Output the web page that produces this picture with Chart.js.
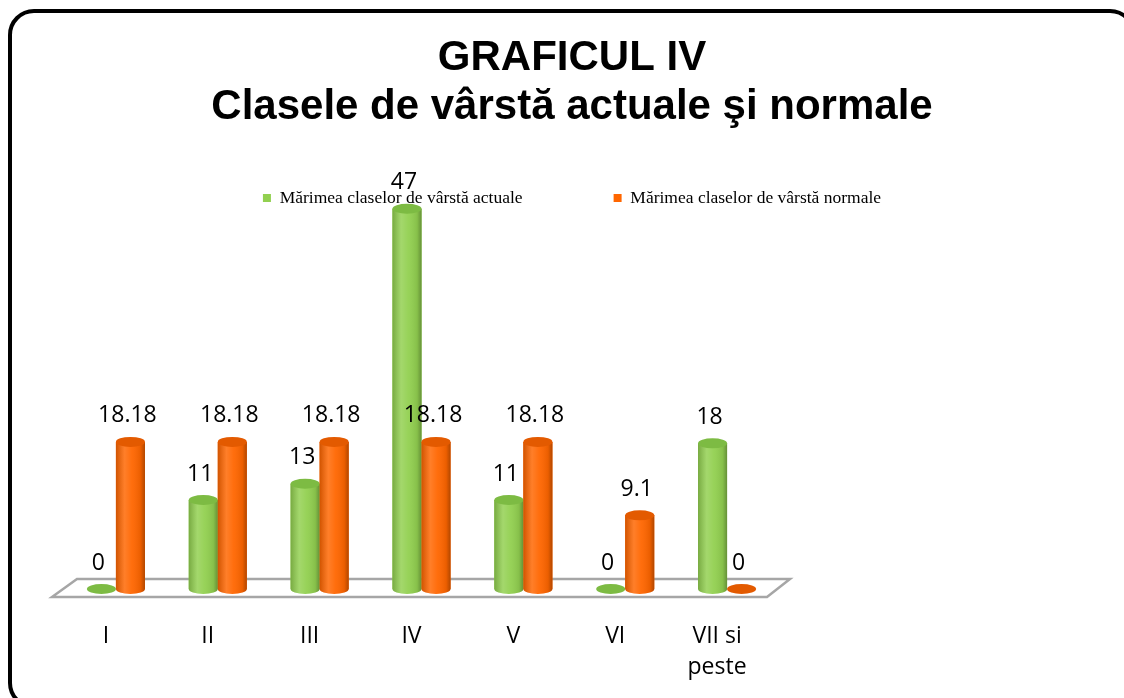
<!DOCTYPE html>
<html>
<head>
<meta charset="utf-8">
<script src="https://cdn.jsdelivr.net/npm/chart.js@4.4.1/dist/chart.umd.min.js"></script>
<style>
  html, body { margin: 0; padding: 0; background: #fff; overflow: hidden; }
  #wrap { position: relative; width: 1124px; height: 698px; overflow: hidden; }
  #chart { position: absolute; left: 0; top: 0; }
  #frame {
    position: absolute; left: 8px; top: 9px; width: 1128px; height: 700px;
    border: 4px solid #000; border-radius: 26px; box-sizing: border-box; pointer-events: none;
  }
</style>
</head>
<body>
<div id="wrap">
  <canvas id="chart" width="1144" height="698"></canvas>
  <div id="frame"></div>
</div>
<script>
// data
var categories = ['I', 'II', 'III', 'IV', 'V', 'VI', ['VII si', 'peste']];
var actual = [0, 11, 13, 47, 11, 0, 18];
var normal = [18.18, 18.18, 18.18, 18.18, 18.18, 9.1, 0];
var seriesNames = ['Mărimea claselor de vârstă actuale', 'Mărimea claselor de vârstă normale'];
var titleLines = ['GRAFICUL IV', 'Clasele de vârstă actuale şi normale'];

// floor under the bars (3d look)
var floorPlugin = {
  id: 'floor',
  beforeDatasetsDraw: function (chart) {
    var ctx = chart.ctx, x = chart.scales.x, y = chart.scales.y;
    var base = y.getPixelForValue(0);
    ctx.save();
    ctx.beginPath();
    ctx.moveTo(x.left - 13, base + 8);
    ctx.lineTo(x.left + 12, base - 10);
    ctx.lineTo(x.right + 12, base - 10);
    ctx.lineTo(x.right - 11, base + 8);
    ctx.closePath();
    ctx.fillStyle = '#fff';
    ctx.fill();
    ctx.lineWidth = 2.5;
    ctx.strokeStyle = '#a6a6a6';
    ctx.stroke();
    ctx.restore();
  }
};

// turn the flat bars into cylinders
var cylinderPlugin = {
  id: 'cylinders',
  afterDatasetsDraw: function (chart) {
    var ctx = chart.ctx;
    chart.data.datasets.forEach(function (ds, di) {
      var meta = chart.getDatasetMeta(di);
      meta.data.forEach(function (bar) {
        var p = bar.getProps(['x', 'y', 'base', 'width'], true);
        var r = p.width / 2, ry = 5;
        ctx.save();
        if (p.base - p.y > 0.5) {
          ctx.beginPath();
          ctx.moveTo(p.x - r, p.y);
          ctx.lineTo(p.x - r, p.base);
          ctx.ellipse(p.x, p.base, r, ry, 0, Math.PI, 0, true);
          ctx.lineTo(p.x + r, p.y);
          ctx.closePath();
          ctx.fillStyle = ds.backgroundColor;
          ctx.fill();
          var g = ctx.createLinearGradient(p.x - r, 0, p.x + r, 0);
          g.addColorStop(0, 'rgba(0,0,0,0.18)');
          g.addColorStop(0.3, 'rgba(255,255,255,0.16)');
          g.addColorStop(0.55, 'rgba(255,255,255,0.05)');
          g.addColorStop(0.85, 'rgba(0,0,0,0.08)');
          g.addColorStop(1, 'rgba(0,0,0,0.3)');
          ctx.fillStyle = g;
          ctx.fill();
        }
        ctx.beginPath();
        ctx.ellipse(p.x, p.y, r, ry, 0, 0, Math.PI * 2);
        ctx.fillStyle = ds.capColor;
        ctx.fill();
        ctx.restore();
      });
    });
  }
};

// value labels above every bar
var valueLabels = {
  id: 'valueLabels',
  afterDatasetsDraw: function (chart) {
    var ctx = chart.ctx;
    ctx.save();
    ctx.font = '23px "Open Sans"';
    ctx.fillStyle = '#000';
    ctx.textAlign = 'center';
    ctx.textBaseline = 'middle';
    chart.data.datasets.forEach(function (ds, di) {
      chart.getDatasetMeta(di).data.forEach(function (bar, i) {
        ctx.fillText(String(ds.data[i]), bar.x - 3, bar.y - 26);
      });
    });
    ctx.restore();
  }
};

new Chart(document.getElementById('chart'), {
  type: 'bar',
  data: {
    labels: categories,
    datasets: [
      {
        label: seriesNames[0],
        data: actual,
        backgroundColor: '#92d050',
        capColor: '#7dbb43',
        borderWidth: 0,
        clip: false
      },
      {
        label: seriesNames[1],
        data: normal,
        backgroundColor: '#ff6600',
        capColor: '#e35a00',
        borderWidth: 0,
        clip: false
      }
    ]
  },
  options: {
    responsive: false,
    animation: false,
    devicePixelRatio: 1,
    categoryPercentage: 0.57,
    barPercentage: 1,
    layout: { padding: 0 },
    plugins: {
      title: {
        display: true,
        text: titleLines,
        color: '#000',
        font: { family: '"Liberation Sans", Arial, sans-serif', size: 42, weight: 'bold', lineHeight: 1.17 },
        padding: { top: 34, bottom: -34 }
      },
      legend: {
        display: true,
        position: 'top',
        labels: {
          color: '#000',
          font: { family: '"Liberation Serif", "Times New Roman", serif', size: 17.5 },
          boxWidth: 8,
          boxHeight: 8,
          padding: 91
        }
      },
      tooltip: { enabled: false }
    },
    scales: {
      x: {
        grid: { display: false, drawTicks: false },
        border: { display: false },
        ticks: {
          color: '#000',
          font: { family: '"Open Sans", sans-serif', size: 23, lineHeight: 1.35 },
          padding: 32,
          labelOffset: -10,
          maxRotation: 0,
          autoSkip: false
        },
        afterFit: function (s) { s.height = 109; }
      },
      y: {
        min: 0,
        max: 46,
        grid: { display: false, drawTicks: false },
        border: { display: false },
        ticks: { display: false },
        afterFit: function (s) { s.width = 65; }
      },
      side: {
        type: 'linear',
        position: 'right',
        grid: { display: false, drawTicks: false },
        border: { display: false },
        ticks: { display: false },
        afterFit: function (s) { s.width = 366; }
      }
    }
  },
  plugins: [floorPlugin, cylinderPlugin, valueLabels]
});
</script>
</body>
</html>
